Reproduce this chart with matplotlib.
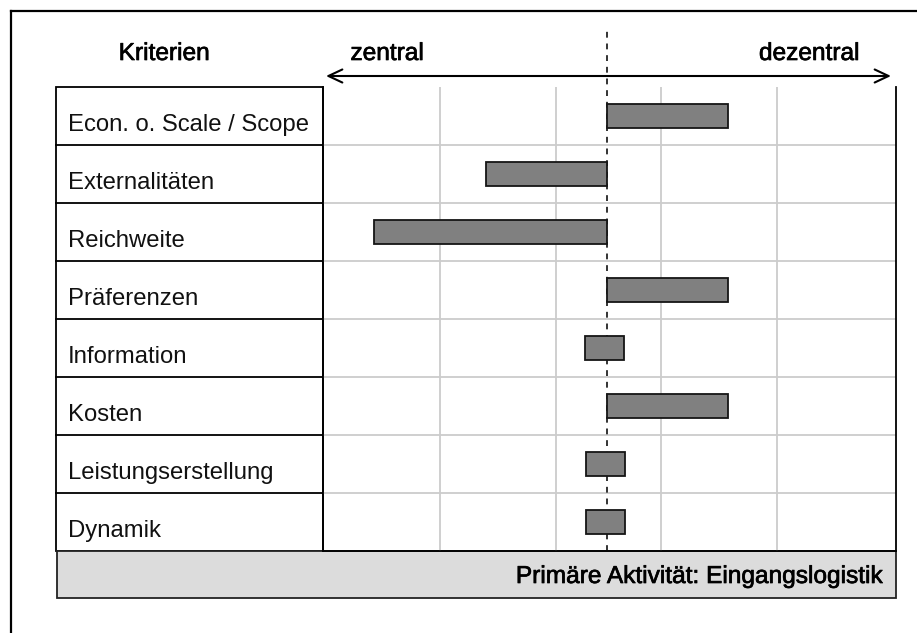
import matplotlib
matplotlib.use("Agg")
import matplotlib.pyplot as plt
import matplotlib.patheffects as pe
from matplotlib.patches import Rectangle

plt.rcParams['font.family'] = ['Liberation Sans', 'DejaVu Sans']

# criteria (rows, top to bottom) and bar extent on the zentral(-) / dezentral(+) scale
criteria = ["Econ. o. Scale / Scope", "Externalitäten", "Reichweite", "Präferenzen",
            "Information", "Kosten", "Leistungserstellung", "Dynamik"]
bar_lo = [0.0, -1.1, -2.12, 0.0, -0.2, 0.0, -0.19, -0.19]
bar_hi = [1.1, 0.0, 0.0, 1.1, 0.16, 1.1, 0.17, 0.17]
grid_x = [-1.52, -0.46, 0.49, 1.55]
x_range = (-2.58, 2.63)

header_left = "Kriterien"
label_left = "zentral"
label_right = "dezentral"
footer = "Primäre Aktivität: Eingangslogistik"

W, H = 917, 633
fig = plt.figure(figsize=(W / 100, H / 100), dpi=100)

# background layer in pixel coordinates for the frame / table decoration
bg = fig.add_axes([0, 0, 1, 1])
bg.set_xlim(0, W)
bg.set_ylim(H, 0)
bg.axis("off")

# outer frame (only top and left are inside the picture)
bg.plot([11, W], [11, 11], color="black", lw=1.6)
bg.plot([11, 11], [11, H], color="black", lw=1.6)

tab_l, tab_r, tab_t, row_h = 56, 323, 87, 58
plot_r = 896
n = len(criteria)
tab_b = tab_t + n * row_h

heavy = [pe.withStroke(linewidth=0.5, foreground="black")]

# criteria column
bg.add_patch(Rectangle((tab_l, tab_t), tab_r - tab_l, tab_b - tab_t,
                       fill=False, edgecolor="black", lw=1.3))
for i in range(1, n):
    y = tab_t + i * row_h
    bg.plot([tab_l, tab_r], [y, y], color="black", lw=1.3)
for i, name in enumerate(criteria):
    bg.text(68, tab_t + (i + 1) * row_h - 20, name, fontsize=17.2,
            ha="left", va="center", color="#111111")

# footer bar
bg.add_patch(Rectangle((tab_l + 1, tab_b), plot_r - tab_l - 1, 47,
                       facecolor="#dcdcdc", edgecolor="#222222", lw=1.3))
bg.text(881, tab_b + 26, footer, fontsize=17.6, ha="right", va="center",
        path_effects=heavy)

# headers
bg.text(164, 54, header_left, fontsize=17.6, ha="center", va="center", path_effects=heavy)
bg.text(387, 54, label_left, fontsize=17.6, ha="center", va="center", path_effects=heavy)
bg.text(809, 54, label_right, fontsize=17.6, ha="center", va="center", path_effects=heavy)
bg.annotate("", xy=(326, 76), xytext=(891, 76),
            arrowprops=dict(arrowstyle="<->,head_length=1.0,head_width=0.47",
                            mutation_scale=10, lw=1.5, color="black",
                            shrinkA=0, shrinkB=0))

# data axes
ax = fig.add_axes([tab_r / W, 1 - tab_b / H, (plot_r - tab_r) / W, (tab_b - tab_t) / H])
ax.patch.set_alpha(0)
ax.set_xlim(*x_range)
ax.set_ylim(n, 0)
ax.set_xticks([])
ax.set_yticks([])
ax.spines["top"].set_visible(False)
for s in ["left", "right", "bottom"]:
    ax.spines[s].set_color("black")
    ax.spines[s].set_linewidth(1.3)

for gx in grid_x:
    ax.axvline(gx, color="#cccccc", lw=1.3, zorder=1)
for i in range(1, n):
    ax.axhline(i, color="#cccccc", lw=1.3, zorder=1)

ypos = [i + 0.5 for i in range(n)]
widths = [h - l for l, h in zip(bar_lo, bar_hi)]
ax.barh(ypos, widths, left=bar_lo, height=0.42, color="#808080",
        edgecolor="#151515", lw=1.3, zorder=3)

ax.plot([0, 0], [n, -1.02], color="#333333", lw=1.4, ls=(0, (3, 3)),
        clip_on=False, zorder=2)

fig.savefig("out.png", dpi=100)
